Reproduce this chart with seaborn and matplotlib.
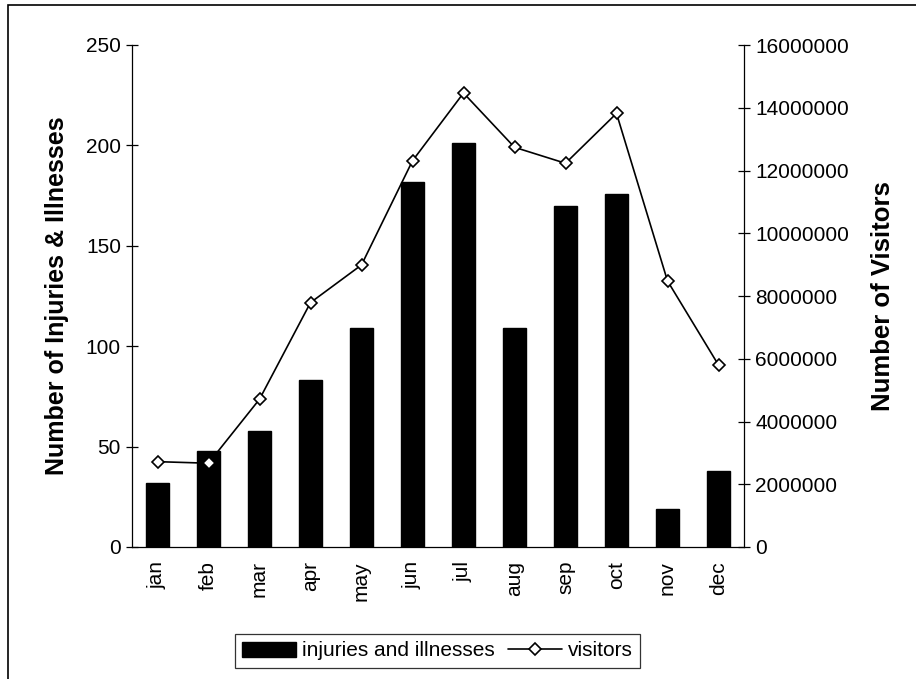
import numpy as np
import pandas as pd
import matplotlib
matplotlib.use("Agg")
import matplotlib.pyplot as plt
import seaborn as sns
from matplotlib.lines import Line2D
from matplotlib.patches import Patch, Rectangle
from matplotlib.ticker import MultipleLocator, FixedLocator, StrMethodFormatter

sns.set_style("white")
plt.rcParams['font.family'] = ['Liberation Sans', 'DejaVu Sans']
plt.rcParams['text.color'] = 'black'
plt.rcParams['axes.labelcolor'] = 'black'
plt.rcParams['xtick.color'] = 'black'
plt.rcParams['ytick.color'] = 'black'

months = ["jan", "feb", "mar", "apr", "may", "jun", "jul", "aug", "sep", "oct", "nov", "dec"]
injuries = [32, 48, 58, 83, 109, 182, 201, 109, 170, 176, 19, 38]
visitors = [2720000, 2670000, 4710000, 7790000, 8990000, 12310000,
            14470000, 12740000, 12230000, 13820000, 8480000, 5800000]

df = pd.DataFrame({"month": months, "injuries": injuries, "visitors": visitors})
df["pos"] = np.arange(len(df))

fig = plt.figure(figsize=(9.16, 6.79), dpi=100)
ax = fig.add_axes([132/916, 1-547/679, (744-132)/916, (547-45)/679])

sns.barplot(data=df, x="month", y="injuries", color="black", width=0.47,
            saturation=1, ax=ax, edgecolor="black")
ax.set_xlim(-0.5, len(months) - 0.5)
ax.set_ylim(0, 250)
ax.yaxis.set_major_locator(MultipleLocator(50))

ax2 = ax.twinx()
sns.lineplot(data=df, x="pos", y="visitors", color="black", lw=1.2,
             marker="D", markersize=6.5, markerfacecolor="white",
             markeredgecolor="black", markeredgewidth=1.2, ax=ax2)
ax2.set_ylim(0, 16000000)
ax2.yaxis.set_major_locator(MultipleLocator(2000000))
ax2.yaxis.set_major_formatter(StrMethodFormatter("{x:.0f}"))
ax2.set_xlim(-0.5, len(months) - 0.5)

for a in (ax, ax2):
    for s in a.spines.values():
        s.set_color("black")
        s.set_linewidth(0.9)
    a.spines["top"].set_visible(False)
ax.spines["right"].set_visible(False)
ax2.spines["left"].set_visible(False)
ax2.spines["bottom"].set_visible(False)

# x axis: labels at centres, tick marks at category boundaries
ax.set_xticks(df["pos"])
ax.set_xticklabels(months, rotation=90, fontsize=15)
ax.tick_params(axis="x", which="major", length=0, pad=10)
ax.xaxis.set_minor_locator(FixedLocator(np.arange(len(months) + 1) - 0.5))
ax.tick_params(axis="x", which="minor", direction="inout", length=9, width=0.9, color="black")
ax.tick_params(axis="y", direction="inout", length=8, width=0.9, color="black",
               labelsize=15, pad=4, left=True)
ax2.tick_params(axis="y", direction="inout", length=8, width=0.9, color="black",
                labelsize=15, pad=4, right=True)

ax.set_xlabel("")
ax.set_ylabel("Number of Injuries & Illnesses", fontsize=18, fontweight="bold", labelpad=12)
ax2.set_ylabel("Number of Visitors", fontsize=18.5, fontweight="bold", labelpad=16)

handles = [Patch(facecolor="black", edgecolor="black"),
           Line2D([], [], color="black", lw=1.2, marker="D", markersize=6.5,
                  markerfacecolor="white", markeredgecolor="black", markeredgewidth=1.2)]
leg = fig.legend(handles, ["injuries and illnesses", "visitors"], loc="center",
                 bbox_to_anchor=(437.5/916, 1-651/679), ncol=2, fontsize=15,
                 frameon=True, fancybox=False, handlelength=2.6, handletextpad=0.3,
                 columnspacing=0.6, borderpad=0.35, borderaxespad=0)
leg.get_frame().set_edgecolor("black")
leg.get_frame().set_linewidth(0.9)

# outer chart border
fig.patches.append(Rectangle((8/916, -0.1), 1.2, 1.1 - 5/679, transform=fig.transFigure,
                             fill=False, edgecolor="black", lw=1.2, clip_on=False))

plt.savefig("out.png", dpi=100)
